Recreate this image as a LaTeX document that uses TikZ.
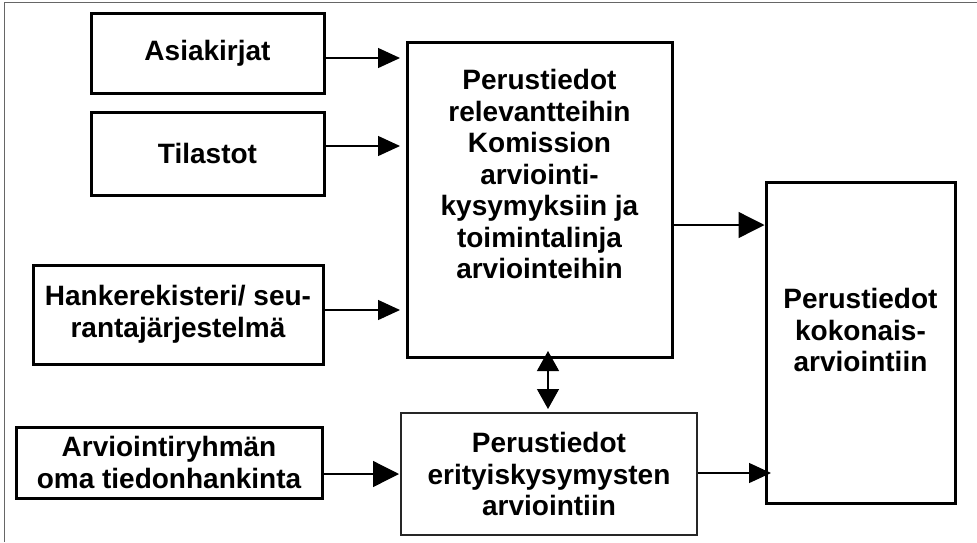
\documentclass[tikz,border=0pt]{standalone}
\usepackage{fontspec}
\setmainfont{Liberation Sans}
\usetikzlibrary{arrows.meta}
\begin{document}
\begin{tikzpicture}[x=1pt,y=-1pt,
  every node/.style={font=\fontsize{28}{31.5}\selectfont\bfseries, align=center, inner sep=0pt},
  box/.style={draw=black, line width=3pt, fill=white},
  thinbox/.style={draw=black!85, line width=1.5pt, fill=white},
  flow/.style={line width=1.3pt, -{Triangle[length=22pt,width=20pt]}},
  bigflow/.style={line width=1.3pt, -{Triangle[length=26pt,width=26pt]}},
  twoway/.style={line width=1.3pt, {Triangle[length=20pt,width=22pt]}-{Triangle[length=20pt,width=22pt]}}]
  \useasboundingbox (0,0) rectangle (977,542);
  % outer frame (top and left edges)
  \draw[black!60, line width=1.5pt] (4.3,542) -- (4.3,2.7) -- (977,2.7);

  % source boxes
  \node[box, minimum width=233pt, minimum height=80pt] (asia) at (207.5,53) {Asiakirjat};
  \node[box, minimum width=233pt, minimum height=83pt] (tila) at (207.5,153.5) {Tilastot};
  \node[box, minimum width=290pt, minimum height=99pt] (hanke) at (178,314.5) {Hankerekisteri/ seu-\\rantajärjestelmä};
  \node[box, minimum width=306pt, minimum height=71pt] (oma) at (169,462.5) {Arviointiryhmän\\oma tiedonhankinta};

  % result boxes
  \node[box, minimum width=265pt, minimum height=315pt] (mid) at (539.5,199.5) {};
  \node (midtext) at (539.5,174) {Perustiedot\\relevantteihin\\Komission\\arviointi-\\kysymyksiin ja\\toimintalinja\\arviointeihin};
  \node[thinbox, minimum width=296pt, minimum height=122pt] (low) at (549,474) {Perustiedot\\erityiskysymysten\\arviointiin};
  \node[box, minimum width=189pt, minimum height=321pt] (total) at (860.5,342.5) {};
  \node (totaltext) at (860.5,330) {Perustiedot\\kokonais-\\arviointiin};

  % anchor points for the connectors
  \coordinate (a1) at (asia.east |- 0,58);
  \coordinate (t1) at (tila.east |- 0,146);
  \coordinate (h1) at (hanke.east |- 0,310);
  \coordinate (o1) at (oma.east |- 0,474);
  \coordinate (m1) at (mid.east |- 0,225);
  \coordinate (l1) at (low.east |- 0,473);
  \coordinate (tip) at (548,351);
  \coordinate (bot) at (548,409);

  \draw[flow] (a1) -- (a1 -| 400,0);
  \draw[flow] (t1) -- (t1 -| 400,0);
  \draw[flow] (h1) -- (h1 -| 400,0);
  \draw[bigflow] (o1) -- (o1 -| 399,0);
  \draw[bigflow] (m1) -- (m1 -| total.west);
  \draw[flow] (l1) -- (l1 -| 771,0);
  \draw[twoway] (tip) -- (bot);
\end{tikzpicture}
\end{document}
